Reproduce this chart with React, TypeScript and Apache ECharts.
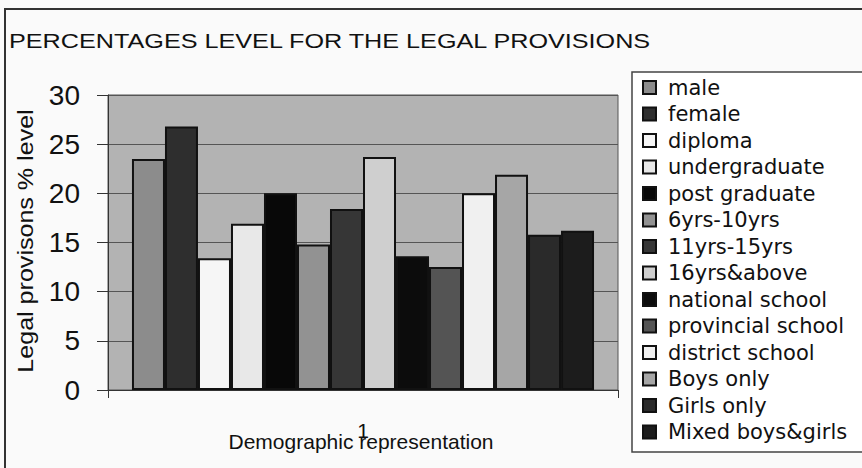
import React, { useEffect, useRef } from "react";
import * as echarts from "echarts";

const categories = ["1"];
const seriesNames = [
  "male",
  "female",
  "diploma",
  "undergraduate",
  "post graduate",
  "6yrs-10yrs",
  "11yrs-15yrs",
  "16yrs&above",
  "national school",
  "provincial school",
  "district school",
  "Boys only",
  "Girls only",
  "Mixed boys&girls",
];
const seriesValues = [23.5, 26.8, 13.4, 16.9, 20.0, 14.8, 18.4, 23.7, 13.6, 12.5, 20.0, 21.9, 15.8, 16.2];
const seriesColors = [
  "#8c8c8c",
  "#2e2e2e",
  "#f6f6f6",
  "#e8e8e8",
  "#080808",
  "#929292",
  "#363636",
  "#cfcfcf",
  "#0c0c0c",
  "#545454",
  "#f0f0f0",
  "#a6a6a6",
  "#2a2a2a",
  "#1c1c1c",
];
const yTicks = { min: 0, max: 30, interval: 5 };

const FONT = "'Liberation Sans', Arial, sans-serif";
const WIDE = "'DejaVu Sans', 'Liberation Sans', sans-serif";

export default function App() {
  const ref = useRef<HTMLDivElement>(null);
  useEffect(() => {
    document.body.style.margin = "0";
    if (!ref.current) return;
    const chart = echarts.init(ref.current, undefined, { renderer: "svg" });
    const option: any = {
      animation: false,
      backgroundColor: "#fafafa",
      textStyle: { fontFamily: FONT },
      grid: {
        left: 108,
        top: 95,
        width: 510,
        height: 295,
        show: true,
        backgroundColor: "#b3b3b3",
        borderColor: "#555",
        borderWidth: 1,
      },
      legend: {
        orient: "vertical",
        left: 642,
        top: 77,
        itemWidth: 13,
        itemHeight: 13,
        itemGap: 5.5,
        padding: 0,
        icon: "rect",
        textStyle: {
          fontFamily: WIDE,
          fontSize: 21,
          lineHeight: 21,
          color: "#111",
          padding: [0, 0, 0, 7],
        },
        data: seriesNames,
      },
      xAxis: {
        type: "category",
        data: categories,
        axisLine: { show: true, lineStyle: { color: "#333", width: 1 } },
        axisTick: { show: true, length: 8, lineStyle: { color: "#333" } },
        axisLabel: { fontFamily: FONT, fontSize: 21, color: "#111", margin: 30 },
        splitLine: { show: false },
      },
      yAxis: {
        type: "value",
        min: yTicks.min,
        max: yTicks.max,
        interval: yTicks.interval,
        axisLine: { show: true, lineStyle: { color: "#333", width: 1 } },
        axisTick: { show: true, length: 11, lineStyle: { color: "#333" } },
        axisLabel: { fontFamily: FONT, fontSize: 28, color: "#111", margin: 28 },
        splitLine: { show: true, lineStyle: { color: "#555", width: 1 } },
      },
      series: seriesNames.map((name, i) => ({
        name,
        type: "bar",
        data: [seriesValues[i]],
        barGap: "0%",
        barCategoryGap: "9.4%",
        itemStyle: { color: seriesColors[i], borderColor: "#111", borderWidth: 2 },
      })),
      graphic: [
        { type: "line", shape: { x1: 4, y1: 9, x2: 862, y2: 9 }, style: { stroke: "#333", lineWidth: 2 } },
        { type: "line", shape: { x1: 5, y1: 9, x2: 5, y2: 468 }, style: { stroke: "#333", lineWidth: 2 } },
        {
          type: "rect",
          z: -1,
          shape: { x: 632, y: 72, width: 260, height: 380 },
          style: { fill: "#ffffff", stroke: "#444", lineWidth: 1.5 },
        },
        {
          type: "text",
          x: 9,
          y: 41,
          scaleX: 1.2,
          style: {
            text: "PERCENTAGES LEVEL FOR THE LEGAL PROVISIONS",
            font: `21px ${FONT}`,
            fill: "#111",
            textAlign: "left",
            textVerticalAlign: "middle",
          },
        },
        {
          type: "text",
          x: 26,
          y: 241,
          rotation: Math.PI / 2,
          scaleX: 1.14,
          style: {
            text: "Legal provisons % level",
            font: `22px ${FONT}`,
            fill: "#111",
            textAlign: "center",
            textVerticalAlign: "middle",
          },
        },
        {
          type: "text",
          x: 361,
          y: 441,
          style: {
            text: "Demographic representation",
            font: `21px ${FONT}`,
            fill: "#111",
            textAlign: "center",
            textVerticalAlign: "middle",
          },
        },
      ],
    };
    chart.setOption(option);
    return () => chart.dispose();
  }, []);
  return <div ref={ref} style={{ width: 862, height: 468 }} />;
}
